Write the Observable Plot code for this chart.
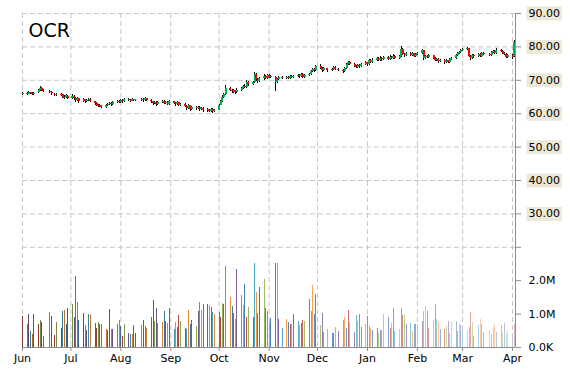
<!DOCTYPE html>
<html>
<head>
<meta charset="utf-8">
<script src="https://cdn.jsdelivr.net/npm/d3@7"></script>
<script src="https://cdn.jsdelivr.net/npm/@observablehq/plot@0.6"></script>
<style>
  html, body { margin: 0; padding: 0; background: #fff; }
  #chart { width: 570px; height: 370px; }
</style>
</head>
<body>
<div id="chart"></div>
<script>
// ---------------- DATA ----------------
const title = "OCR";
const firstDay = "2018-06-01";
const lastDay = "2019-04-02";

// one entry per weekday, Jun 2018 .. Apr 2 2019 (null = no trade shown)
const open = [
  // Jun
  65.8,66.0,65.8,66.2,66.0,65.7,66.2,66.8,67.5,67.0,null,66.5,66.3,null,65.8,65.5,65.8,65.6,65.0,64.8,65.2,
  // Jul
  64.7,65.2,64.5,64.0,64.5,63.8,64.2,63.6,63.9,64.3,63.6,63.0,62.6,62.2,62.4,61.9,62.4,62.8,63.2,62.8,63.4,63.8,
  // Aug
  63.4,64.1,63.7,64.3,64.0,63.8,64.2,63.9,null,64.0,64.3,63.9,64.5,64.1,63.6,63.0,63.5,62.8,63.4,63.8,63.2,63.5,62.9,
  // Sep
  63.6,63.1,62.7,63.3,62.5,62.9,62.2,61.6,62.4,61.3,62.0,61.5,61.9,61.2,61.6,60.9,61.2,60.7,61.4,60.6,
  // Oct
  61.1,62.6,63.8,64.9,65.6,67.6,66.9,66.4,66.8,66.3,67.0,67.5,68.2,67.9,69.3,68.6,69.3,71.6,70.1,69.5,70.4,71.2,70.6,
  // Nov
  71.4,70.8,70.9,69.4,70.3,null,70.8,70.4,70.9,70.5,71.2,70.7,71.0,71.5,71.0,71.7,70.9,71.3,71.8,72.6,73.1,72.8,
  // Dec
  74.0,73.6,72.9,null,73.4,72.8,73.2,73.8,null,73.3,72.9,72.5,73.4,74.6,75.3,74.7,74.2,73.8,74.5,74.0,74.8,
  // Jan
  75.2,74.6,75.8,75.3,76.0,76.4,75.9,76.6,76.1,76.8,76.3,76.9,76.5,77.2,76.6,77.0,79.3,77.8,77.3,77.9,77.4,77.9,77.2,
  // Feb
  77.6,78.0,78.8,76.4,77.2,76.8,77.3,76.5,75.9,76.2,75.5,76.0,75.2,75.8,75.4,76.1,76.6,77.3,77.9,78.4,
  // Mar
  78.9,79.2,79.4,77.1,76.5,77.3,77.0,77.6,77.2,78.1,null,77.8,77.5,78.2,78.6,78.0,79.0,78.6,78.1,77.7,76.9,
  // Apr
  77.4,77.0
];
const close = [
  66.0,65.8,66.2,66.0,65.7,66.1,66.8,67.5,67.0,66.6,null,66.3,65.9,null,65.5,65.8,65.6,65.0,64.8,65.3,64.6,
  65.2,64.5,64.0,64.6,63.8,64.2,63.6,63.9,64.4,63.7,63.0,62.6,62.2,62.5,61.9,62.4,62.8,63.2,62.7,63.5,63.8,63.4,
  64.1,63.6,64.3,64.0,63.8,64.2,63.9,64.0,null,64.3,63.9,64.5,64.1,63.6,63.0,63.5,62.8,63.4,63.8,63.2,63.5,62.9,63.6,
  63.1,62.7,63.3,62.5,62.9,62.2,61.6,62.4,61.3,62.0,61.5,61.9,61.2,61.6,60.9,61.2,60.7,61.4,60.6,61.0,
  62.6,63.8,64.9,65.6,67.6,66.9,66.5,66.8,66.2,67.0,67.5,68.2,67.9,69.4,68.6,69.2,71.8,70.1,69.5,70.4,71.2,70.6,71.4,
  70.8,71.1,69.4,70.3,70.8,null,70.4,70.9,70.5,71.2,70.7,71.0,71.5,71.0,71.7,70.9,71.3,71.8,72.6,73.1,72.8,74.0,
  73.6,72.9,73.4,null,72.8,73.2,73.8,73.3,null,72.9,72.5,73.4,74.6,75.3,74.7,74.2,73.8,74.5,74.0,74.8,75.2,
  74.6,75.8,75.3,76.0,76.4,75.9,76.6,76.1,76.8,76.3,76.9,76.5,77.2,76.6,77.0,79.3,77.8,77.3,77.9,77.4,77.9,77.2,77.6,
  78.0,78.8,76.4,77.2,76.8,77.3,76.5,75.9,76.2,75.5,76.0,75.2,75.8,75.4,76.1,76.6,77.3,77.9,78.4,78.9,
  79.2,79.4,77.1,76.5,77.3,77.0,77.6,77.2,78.1,77.8,null,77.5,78.2,78.6,78.0,79.0,78.6,78.1,77.7,76.9,77.4,
  76.8,81.3
];
const high = [
  66.3,66.3,66.5,66.4,66.2,66.4,67.1,68.0,67.8,67.2,null,66.8,66.5,null,66.0,66.1,66.0,65.8,65.3,65.6,65.4,
  65.6,65.5,64.8,64.9,64.7,64.6,64.4,64.2,64.7,64.5,63.8,63.3,62.9,62.8,62.6,62.7,63.1,63.5,63.4,63.8,64.1,64.0,
  64.4,64.3,64.6,64.5,64.2,64.5,64.4,64.3,null,64.6,64.5,64.8,64.7,64.3,63.8,63.8,63.7,63.7,64.1,64.0,63.8,63.7,63.9,
  63.8,63.3,63.6,63.5,63.2,63.1,62.4,62.7,62.6,62.3,62.2,62.2,62.1,61.9,61.8,61.5,61.4,61.7,61.6,61.3,
  62.9,64.1,65.3,66.0,68.4,67.9,67.2,67.1,67.0,67.4,67.8,68.5,68.6,69.8,69.6,69.6,72.3,71.9,70.4,70.8,71.6,71.5,71.8,
  71.7,71.4,71.0,70.6,71.1,null,71.0,71.2,71.1,71.5,71.4,71.3,71.8,71.7,72.0,71.9,71.6,72.1,72.9,73.5,73.4,74.4,
  74.6,73.9,73.7,null,73.6,73.5,74.2,74.0,null,73.5,73.1,73.7,74.9,75.7,75.5,74.9,74.4,74.8,74.7,75.1,75.6,
  75.4,76.2,76.1,76.4,76.8,76.7,77.0,76.9,77.2,77.1,77.3,77.2,77.6,77.5,77.3,80.1,79.6,78.1,78.3,78.2,78.3,78.1,78.0,
  78.4,79.2,79.0,77.5,77.5,77.6,77.5,76.7,76.5,76.4,76.3,76.2,76.1,76.0,76.4,76.9,77.6,78.2,78.7,79.2,
  79.6,79.9,79.6,77.4,77.6,77.6,77.9,77.9,78.4,78.4,null,78.0,78.5,79.0,78.8,79.4,79.2,78.8,78.4,77.9,77.8,
  77.7,82.0
];
const low = [
  65.5,65.5,65.6,65.7,65.4,65.5,66.0,66.6,66.7,66.2,null,65.9,65.5,null,65.1,65.2,65.2,64.6,64.4,64.5,64.2,
  64.4,64.1,63.4,63.7,63.2,63.5,63.2,63.3,63.7,63.3,62.6,62.2,61.8,61.9,61.5,61.6,62.1,62.5,62.3,62.5,63.1,63.0,
  63.1,63.2,63.4,63.7,63.5,63.6,63.6,63.6,null,63.7,63.5,63.7,63.8,63.2,62.4,62.7,62.3,62.5,63.1,62.9,62.9,62.5,62.6,
  62.8,62.3,62.4,62.1,62.2,61.8,61.0,61.3,60.8,61.0,61.1,61.2,60.8,60.9,60.5,60.5,60.3,60.4,60.2,60.3,
  60.9,62.4,63.5,64.6,65.4,66.5,66.1,66.0,65.8,66.0,66.7,67.2,67.5,67.6,68.2,68.3,69.0,69.7,69.0,69.2,70.0,70.2,70.3,
  70.5,70.5,66.5,69.1,70.0,null,70.1,70.1,70.2,70.3,70.4,70.4,70.7,70.6,70.8,70.5,70.6,71.0,71.5,72.3,72.4,72.5,
  73.2,72.4,72.6,null,72.4,72.5,72.9,73.0,null,72.5,71.9,72.2,73.1,74.3,74.3,73.8,73.4,73.5,73.6,73.7,74.5,
  74.0,74.3,74.9,75.0,75.7,75.5,75.6,75.7,75.8,75.9,76.0,76.1,76.2,76.2,76.3,76.8,77.4,76.9,77.0,77.0,77.1,76.8,76.9,
  77.3,77.7,75.9,76.1,76.4,76.5,76.1,75.5,75.6,75.1,75.2,74.7,74.9,75.0,75.1,75.8,76.3,77.0,77.6,78.1,
  78.6,78.9,76.8,76.0,76.2,76.6,76.7,76.8,76.9,77.4,null,77.1,77.2,77.9,77.6,77.7,78.2,77.7,77.3,76.4,76.6,
  76.3,76.8
];
// volume, millions
const volume = [
  0.93,0.69,0.98,0.48,0.39,0.98,0.69,0.80,0.75,0.33,null,1.05,0.93,null,0.36,0.75,0.57,1.07,1.10,0.69,1.16,
  1.28,0.90,2.12,1.34,0.80,1.01,0.66,0.51,0.98,0.95,0.72,0.57,0.75,0.69,0.69,0.54,0.51,1.13,0.54,0.54,0.69,0.80,
  0.63,0.33,0.69,0.42,0.39,0.39,0.66,0.42,null,0.66,0.80,0.63,0.57,0.90,1.40,0.78,1.16,0.72,0.75,1.07,0.78,0.72,1.16,
  0.54,0.75,0.60,0.95,0.78,0.57,0.54,1.10,0.69,0.80,0.63,1.07,1.34,1.10,1.28,1.28,1.25,1.19,1.04,0.98,
  1.04,0.90,1.31,1.28,2.42,1.49,1.22,1.01,0.84,2.33,1.55,1.25,1.88,0.90,1.19,0.90,2.51,1.64,1.01,1.79,2.03,1.16,1.07,
  0.75,0.87,2.51,2.51,0.84,null,0.57,0.84,0.75,0.69,0.69,0.98,0.78,0.66,0.72,0.80,0.78,1.43,1.07,1.85,0.98,1.60,
  0.66,1.01,0.45,null,0.54,0.42,0.42,0.60,null,0.48,0.80,0.90,0.57,1.10,0.75,0.45,0.95,0.78,0.98,0.60,0.69,
  0.93,0.63,0.57,0.51,0.57,0.42,0.51,0.51,0.98,0.90,0.57,0.72,1.16,0.48,0.54,1.16,0.95,0.95,0.69,0.72,0.48,0.69,0.69,
  0.69,0.78,1.07,1.22,1.07,0.57,0.80,1.28,0.84,0.75,0.54,0.54,0.63,0.78,0.42,0.75,0.78,0.48,0.72,0.66,
  0.51,0.51,0.60,1.04,0.75,0.33,0.66,0.84,0.69,0.45,null,0.51,0.39,0.60,0.69,0.45,0.66,0.42,0.72,0.39,0.51,
  0.42,0.69
];
const priceTicks = [30, 40, 50, 60, 70, 80, 90];
const gridPrices = [20, 30, 40, 50, 60, 70, 80, 90];
const volumeTicks = [0, 1, 2];
const volumeTickLabels = ["0.0K", "1.0M", "2.0M"];
const blankTicks = [20];

// ---------------- BUILD ----------------
const parse = d3.utcParse("%Y-%m-%d");
const start = parse(firstDay);
const end = parse(lastDay);
const days = d3.utcDay.range(start, d3.utcDay.offset(end, 1))
  .filter(d => d.getUTCDay() !== 0 && d.getUTCDay() !== 6);
const data = days.map((date, i) => ({
  date, open: open[i], high: high[i], low: low[i], close: close[i], volume: volume[i]
}));
const candles = data.filter(d => d.open != null && d.close != null);
const bars = data.filter(d => d.volume != null);

// volume sits below price on one shared vertical scale: 1M = 10 price units, 0 at -10
const volToY = v => v * 10 - 10;

// Office-style palette, cycling; shade runs darker -> base -> lighter over time
const palette = ["#4F81BD", "#C0504D", "#9BBB59", "#8064A2", "#4BACC6", "#F79646"];
bars.forEach((d, k) => {
  const base = palette[(k + 1) % palette.length];
  const t = k / (bars.length - 1);
  d.color = t < 0.5
    ? d3.interpolateRgb(d3.interpolateRgb(base, "#000")(0.3), base)(t / 0.5)
    : d3.interpolateRgb(base, "#fff")(0.6 * (t - 0.5) / 0.5);
});

const monthTicks = d3.utcMonth.range(start, d3.utcDay.offset(end, 1));
const xDomain = [start, new Date(+end + 20 * 3600e3)];

const chart = Plot.plot({
  width: 570,
  height: 370,
  marginLeft: 22,
  marginRight: 55,
  marginTop: 13,
  marginBottom: 23,
  x: { type: "utc", domain: xDomain },
  y: { domain: [-10, 90] },
  color: { type: "identity" },
  style: { fontFamily: "DejaVu Sans", fontSize: "11px", background: "#fff", color: "#000" },
  marks: [
    Plot.ruleY(gridPrices, { stroke: "#c8c8c8", strokeDasharray: "5,3" }),
    Plot.ruleX(monthTicks, { stroke: "#c8c8c8", strokeDasharray: "5,3" }),
    Plot.ruleX(bars, {
      x: "date", y1: -10, y2: d => volToY(d.volume),
      stroke: "color", strokeWidth: 1, shapeRendering: "crispEdges"
    }),
    Plot.ruleX(candles, { x: "date", y1: "low", y2: "high", stroke: "#000", strokeWidth: 1, shapeRendering: "crispEdges" }),
    Plot.ruleX(candles, {
      x: "date",
      y1: "open",
      y2: d => Math.abs(d.close - d.open) < 0.25 ? d.open + (d.close >= d.open ? 0.3 : -0.3) : d.close,
      stroke: d => d.close >= d.open ? "#00B050" : "#FF0000",
      strokeWidth: 2, shapeRendering: "crispEdges"
    }),
    Plot.ruleY([-10], { stroke: "#8c8c8c" }),
    Plot.ruleX([xDomain[1]], { stroke: "#8c8c8c" }),
    Plot.axisX({
      ticks: monthTicks, tickFormat: d3.utcFormat("%b"),
      tickSize: 4, tickPadding: 3, stroke: "#8c8c8c", fill: "#000"
    }),
    Plot.axisY({
      anchor: "right", ticks: priceTicks, tickFormat: d => d.toFixed(2),
      tickSize: 5, tickPadding: 8, stroke: "#8c8c8c", fill: "#000", label: null
    }),
    Plot.axisY({
      anchor: "right", ticks: volumeTicks.map(volToY),
      tickFormat: y => volumeTickLabels[volumeTicks.map(volToY).indexOf(y)],
      tickSize: 5, tickPadding: 8, stroke: "#8c8c8c", fill: "#000", label: null
    }),
    Plot.axisY({
      anchor: "right", ticks: blankTicks, tickFormat: () => "",
      tickSize: 5, tickPadding: 8, stroke: "#8c8c8c", fill: "#000", label: null
    }),
    Plot.text([title], {
      text: d => d, frameAnchor: "top-left", dx: 6, dy: 10,
      lineAnchor: "top", textAnchor: "start", fontSize: 19, fill: "#000"
    })
  ]
});

document.getElementById("chart").append(chart);

// beige label boxes behind the price tick labels
d3.select(chart).selectAll("text").each(function () {
  const txt = this.textContent;
  if (!/^\d+\.00$/.test(txt)) return;
  const bb = this.getBBox();
  const r = document.createElementNS("http://www.w3.org/2000/svg", "rect");
  r.setAttribute("x", bb.x - 2);
  r.setAttribute("y", bb.y - 0.5);
  r.setAttribute("width", bb.width + 4);
  r.setAttribute("height", bb.height + 1);
  r.setAttribute("fill", "#ECE9D8");
  const tr = this.getAttribute("transform");
  if (tr) r.setAttribute("transform", tr);
  this.parentNode.insertBefore(r, this);
});
</script>
</body>
</html>
